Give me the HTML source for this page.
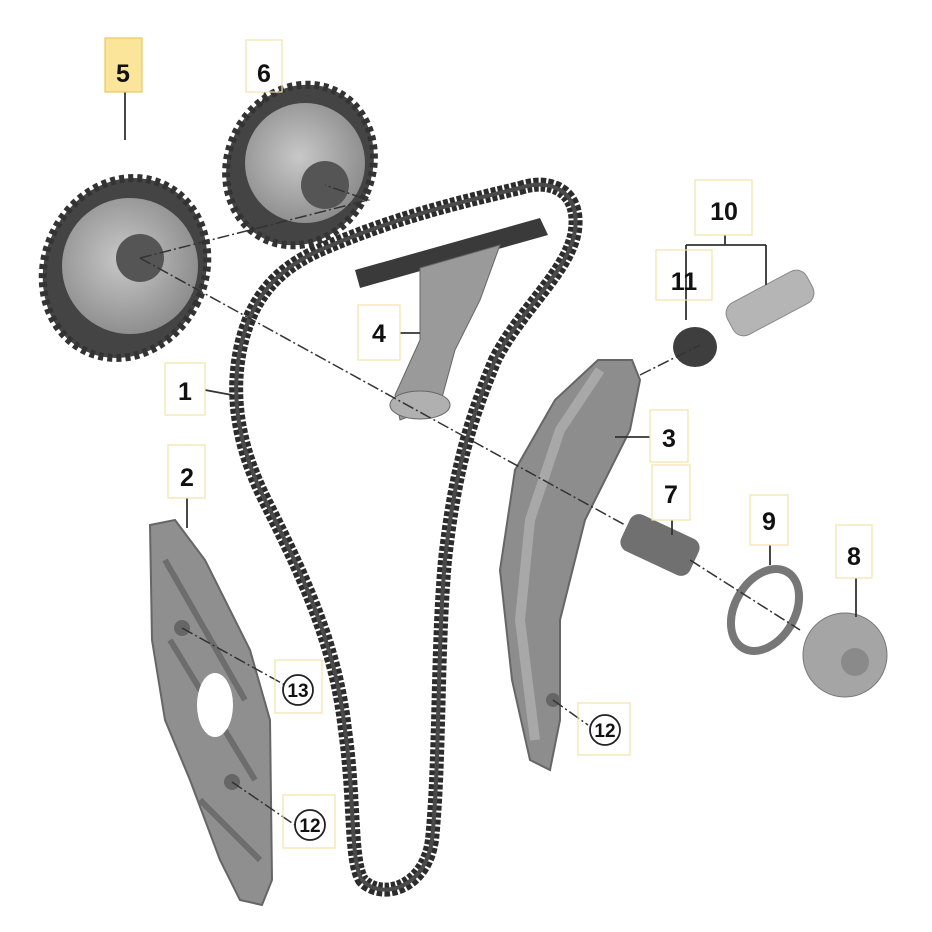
<!DOCTYPE html>
<html><head><meta charset="utf-8"><style>
html,body{margin:0;padding:0;background:#fff}
svg{display:block}
text{font-family:"Liberation Sans",Arial,sans-serif;font-weight:bold;fill:#111}
</style></head><body>
<svg width="932" height="932" viewBox="0 0 932 932">
<defs>
<radialGradient id="g1" cx="0.45" cy="0.45" r="0.6"><stop offset="0" stop-color="#c8c8c8"/><stop offset="1" stop-color="#8a8a8a"/></radialGradient>
</defs>
<!-- guide 2 -->
<path d="M150 525 L175 520 L205 560 L250 650 L270 720 L272 880 L262 905 L240 900 L220 860 L190 780 L165 720 L152 640 Z" fill="#8f8f8f" stroke="#666" stroke-width="2"/>
<path d="M165 560 L245 700 M170 640 L255 780 M200 800 L260 860" stroke="#6d6d6d" stroke-width="6"/>
<ellipse cx="215" cy="705" rx="18" ry="32" fill="#fff"/>
<circle cx="182" cy="628" r="8" fill="#666"/><circle cx="232" cy="782" r="8" fill="#666"/>
<!-- guide 3 -->
<path d="M598 360 L632 360 L640 380 L630 430 L585 520 L560 620 L560 720 L550 770 L530 760 L512 680 L500 570 L515 470 L555 400 Z" fill="#8d8d8d" stroke="#666" stroke-width="2"/>
<path d="M600 370 L560 430 L530 520 L520 620 L535 740" stroke="#a8a8a8" stroke-width="10" fill="none"/>
<circle cx="553" cy="700" r="7" fill="#666"/>
<!-- chain -->
<path id="ch" d="M520 188 C550 178 580 190 575 230 C570 270 520 310 495 360 C470 420 455 470 445 560 C437 650 440 760 432 840 C425 890 380 900 362 880 C350 860 355 800 345 730 C335 640 300 570 265 500 C240 450 230 400 240 350 C250 300 275 270 320 250 C400 215 470 200 520 188 Z" fill="none" stroke="#2c2c2c" stroke-width="14" stroke-dasharray="5 2"/>
<path d="M520 188 C550 178 580 190 575 230 C570 270 520 310 495 360 C470 420 455 470 445 560 C437 650 440 760 432 840 C425 890 380 900 362 880 C350 860 355 800 345 730 C335 640 300 570 265 500 C240 450 230 400 240 350 C250 300 275 270 320 250 C400 215 470 200 520 188 Z" fill="none" stroke="#4a4a4a" stroke-width="4"/>
<!-- part 4 -->
<path d="M355 270 L540 218 L548 235 L360 288 Z" fill="#3a3a3a"/>
<path d="M420 268 L500 245 L480 300 L455 350 L440 405 L400 420 L395 395 L420 340 Z" fill="#9a9a9a" stroke="#666"/>
<ellipse cx="420" cy="405" rx="30" ry="14" fill="#b0b0b0" stroke="#666"/>
<!-- sprockets -->
<ellipse cx="300" cy="165" rx="72" ry="82" transform="rotate(25 300 165)" fill="#444" stroke="#333" stroke-width="8" stroke-dasharray="5 4"/>
<circle cx="305" cy="163" r="60" fill="url(#g1)"/>
<circle cx="325" cy="185" r="24" fill="#555"/>
<ellipse cx="125" cy="268" rx="80" ry="92" transform="rotate(25 125 268)" fill="#444" stroke="#333" stroke-width="8" stroke-dasharray="5 4"/>
<circle cx="130" cy="266" r="68" fill="url(#g1)"/>
<circle cx="140" cy="258" r="24" fill="#555"/>
<!-- 10/11 -->
<rect x="725" y="285" width="90" height="36" rx="12" transform="rotate(-28 770 303)" fill="#b5b5b5" stroke="#888"/>
<ellipse cx="695" cy="347" rx="22" ry="20" fill="#3e3e3e"/>
<!-- 7 -->
<rect x="622" y="525" width="76" height="40" rx="10" transform="rotate(25 660 545)" fill="#707070"/>
<!-- 9 -->
<ellipse cx="765" cy="610" rx="30" ry="44" transform="rotate(30 765 610)" fill="none" stroke="#777" stroke-width="8"/>
<!-- 8 -->
<circle cx="845" cy="655" r="42" fill="#a5a5a5" stroke="#777"/>
<circle cx="855" cy="662" r="14" fill="#8a8a8a"/>
<!-- dash-dot axes -->
<g stroke="#333" stroke-width="1.5" stroke-dasharray="12 3 2 3" fill="none">
<path d="M140 258 L625 525"/><path d="M140 258 L368 200 L325 185"/>
<path d="M690 560 L800 630"/><path d="M640 375 L700 345"/>
<path d="M182 628 L285 685"/><path d="M232 782 L295 825"/><path d="M553 700 L588 725"/>
</g>
<!-- leaders -->
<g stroke="#333" stroke-width="1.8" fill="none">
<path d="M125 92 L125 140"/><path d="M265 92 L262 105"/>
<path d="M725 235 L725 245 M686 245 L766 245 M686 245 L686 320 M766 245 L766 285"/>
<path d="M400 333 L420 333"/><path d="M205 390 L232 395"/>
<path d="M650 437 L615 437"/><path d="M187 498 L187 528"/>
<path d="M672 520 L672 535"/><path d="M770 545 L770 565"/><path d="M856 578 L856 617"/>
</g>
<!-- labels -->
<g fill="none" stroke="#f3e3a8" stroke-width="1.2">
<rect x="105" y="38" width="37" height="54" fill="#fbe59a" stroke="#e8c860"/>
<rect x="246" y="40" width="36" height="52"/>
<rect x="695" y="180" width="57" height="55"/>
<rect x="656" y="250" width="56" height="50"/>
<rect x="358" y="305" width="42" height="55"/>
<rect x="165" y="363" width="40" height="52"/>
<rect x="650" y="410" width="38" height="52"/>
<rect x="168" y="445" width="37" height="53"/>
<rect x="652" y="465" width="38" height="55"/>
<rect x="750" y="495" width="38" height="50"/>
<rect x="836" y="525" width="36" height="53"/>
<rect x="275" y="660" width="47" height="53"/>
<rect x="283" y="795" width="52" height="53"/>
<rect x="578" y="703" width="52" height="52"/>
</g>
<g font-size="25" text-anchor="middle">
<text x="123" y="82">5</text><text x="264" y="82">6</text>
<text x="724" y="220">10</text><text x="684" y="290">11</text>
<text x="379" y="342">4</text><text x="185" y="400">1</text>
<text x="669" y="447">3</text><text x="187" y="486">2</text>
<text x="671" y="503">7</text><text x="769" y="530">9</text>
<text x="854" y="565">8</text>
</g>
<g stroke="#222" stroke-width="1.8" fill="#fff">
<circle cx="298" cy="690" r="15"/><circle cx="310" cy="825" r="15"/><circle cx="605" cy="730" r="15"/>
</g>
<g font-size="19" text-anchor="middle">
<text x="298" y="697">13</text><text x="310" y="832">12</text><text x="605" y="737">12</text>
</g>
</svg>
</body></html>
